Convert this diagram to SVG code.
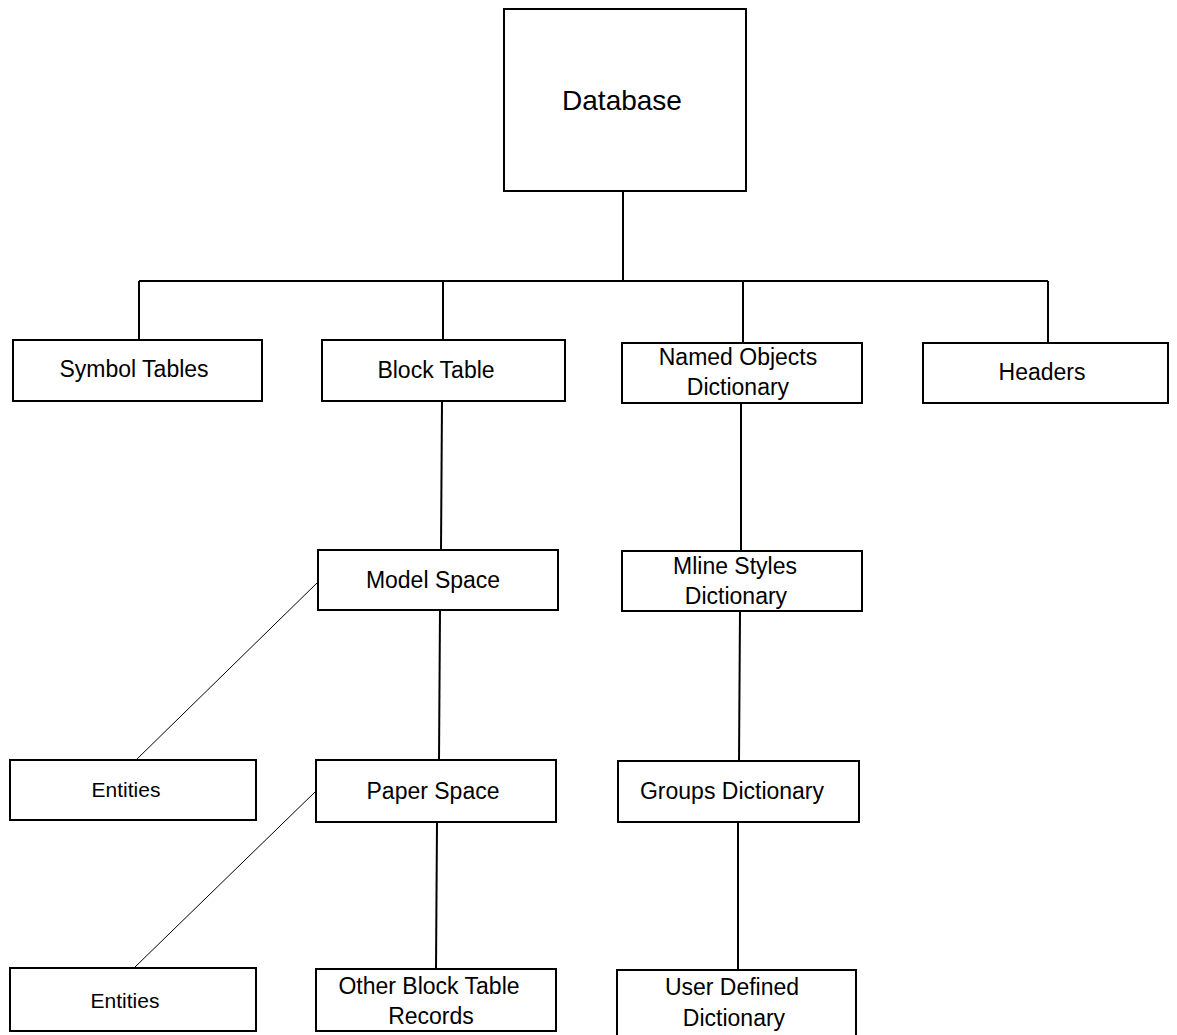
<svg xmlns="http://www.w3.org/2000/svg" width="1177" height="1035" viewBox="0 0 1177 1035">
<style>
.box{fill:#fff;stroke:#000;stroke-width:2}
.t{font-family:"Liberation Sans",Arial,sans-serif;font-size:23px;fill:#000;text-anchor:middle;dominant-baseline:central}
.big{font-size:28px}
.sm{font-size:21px}
.c{stroke:#000;stroke-width:2;fill:none}
.d{stroke:#000;stroke-width:1;fill:none}
</style>
<rect width="1177" height="1035" fill="#fff"/>
<g id="connectors">
<line class="c" x1="623" y1="191" x2="623" y2="281"/>
<line class="c" x1="139" y1="281" x2="1048" y2="281"/>
<line class="c" x1="139" y1="281" x2="139" y2="340"/>
<line class="c" x1="443" y1="281" x2="443" y2="340"/>
<line class="c" x1="743" y1="281" x2="743" y2="343"/>
<line class="c" x1="1048" y1="281" x2="1048" y2="343"/>
<line class="c" x1="442" y1="401" x2="441" y2="550"/>
<line class="c" x1="440" y1="610" x2="439" y2="760"/>
<line class="c" x1="437" y1="822" x2="436" y2="969"/>
<line class="c" x1="741" y1="403" x2="741" y2="551"/>
<line class="c" x1="740" y1="611" x2="739" y2="761"/>
<line class="c" x1="738" y1="822" x2="738" y2="970"/>
<line class="d" x1="318" y1="582" x2="136" y2="760"/>
<line class="d" x1="316" y1="791" x2="134" y2="968"/>
</g>
<g id="database"><rect class="box" x="504" y="9" width="242" height="182"/><text class="t big" x="622" y="100">Database</text></g>
<g id="symbol-tables"><rect class="box" x="13" y="340" width="249" height="61"/><text class="t" x="134" y="369">Symbol Tables</text></g>
<g id="block-table"><rect class="box" x="322" y="340" width="243" height="61"/><text class="t" x="436" y="370">Block Table</text></g>
<g id="named-objects"><rect class="box" x="622" y="343" width="240" height="60"/><text class="t" x="738" y="357">Named Objects</text><text class="t" x="738" y="387">Dictionary</text></g>
<g id="headers"><rect class="box" x="923" y="343" width="245" height="60"/><text class="t" x="1042" y="372">Headers</text></g>
<g id="model-space"><rect class="box" x="318" y="550" width="240" height="60"/><text class="t" x="433" y="580">Model Space</text></g>
<g id="mline-styles"><rect class="box" x="622" y="551" width="240" height="60"/><text class="t" x="735" y="566">Mline Styles</text><text class="t" x="736" y="596">Dictionary</text></g>
<g id="entities-1"><rect class="box" x="10" y="760" width="246" height="60"/><text class="t sm" x="126" y="789">Entities</text></g>
<g id="paper-space"><rect class="box" x="316" y="760" width="240" height="62"/><text class="t" x="433" y="791">Paper Space</text></g>
<g id="groups"><rect class="box" x="618" y="761" width="241" height="61"/><text class="t" x="732" y="791">Groups Dictionary</text></g>
<g id="entities-2"><rect class="box" x="10" y="968" width="246" height="63"/><text class="t sm" x="125" y="1000">Entities</text></g>
<g id="other-block"><rect class="box" x="316" y="969" width="240" height="62"/><text class="t" x="429" y="986">Other Block Table</text><text class="t" x="431" y="1016">Records</text></g>
<g id="user-defined"><rect class="box" x="617" y="970" width="239" height="66"/><text class="t" x="732" y="987">User Defined</text><text class="t" x="734" y="1018">Dictionary</text></g>
</svg>
